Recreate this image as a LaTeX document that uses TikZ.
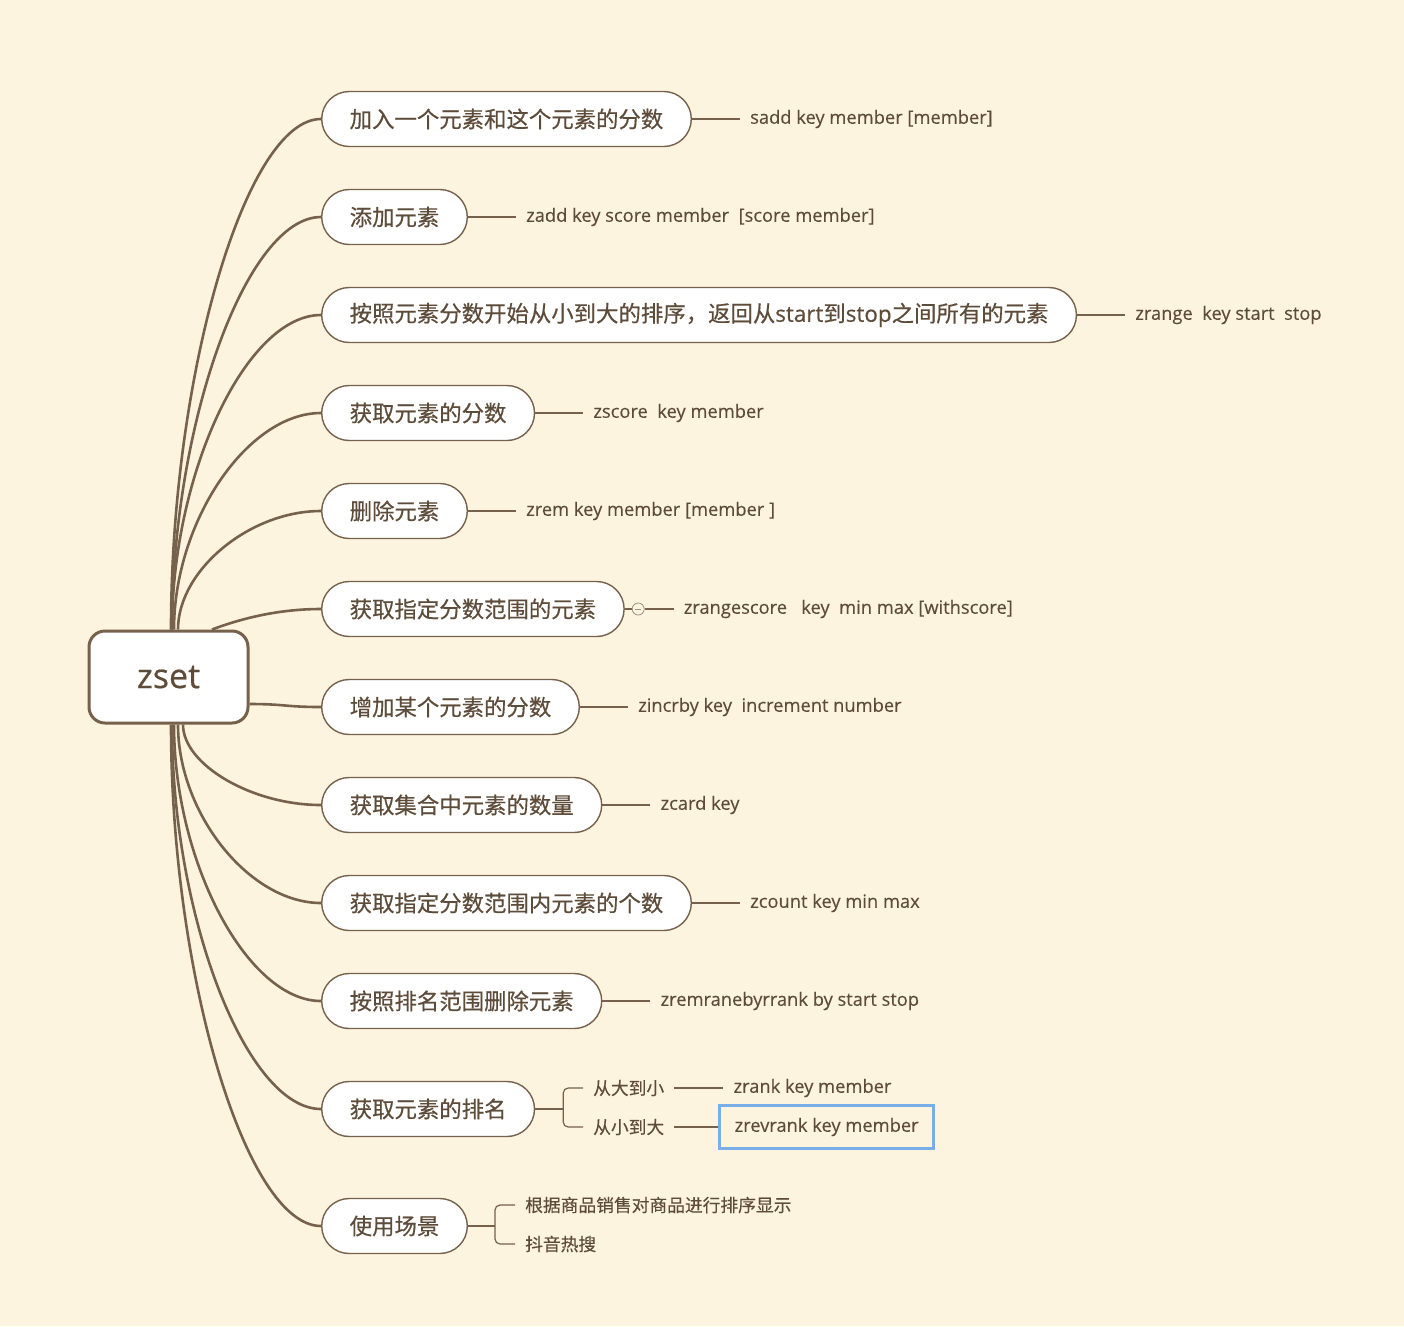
\documentclass[tikz,border=0pt]{standalone}
\usepackage{fontspec}
\setmainfont[FakeBold=0.25]{Open Sans}
\newfontfamily\cjk[FakeBold=0.25]{Noto Sans CJK SC}
\newfontfamily\cjkhead[FakeBold=0.45]{Noto Sans CJK SC}
\newfontfamily\headlatin[FakeBold=0.45]{Open Sans}
\usetikzlibrary{positioning,calc}
\definecolor{paper}{HTML}{FCF4DF}
\definecolor{bark}{HTML}{76624C}
\definecolor{ink}{HTML}{5E4C3A}
\definecolor{pick}{HTML}{7AAEE8}
\tikzset{
  root/.style={draw=bark, line width=3pt, fill=white, rounded corners=16pt, minimum width=159pt, minimum height=92pt, text=ink, font=\headlatin\fontsize{34}{40}\selectfont},
  branch/.style={draw=bark, line width=1.4pt, fill=white, rounded corners=27.5pt, minimum height=55pt, inner xsep=28pt, anchor=west, text=ink, font=\cjkhead\fontsize{22.4}{26}\selectfont},
  leaf/.style={inner xsep=10pt, inner ysep=2pt, text=ink, font=\fontsize{18.3}{22}\selectfont},
  cjkleaf/.style={leaf, font=\cjk\fontsize{17.75}{21}\selectfont},
  twig/.style={draw=bark, line width=2.6pt},
  stem/.style={draw=bark, line width=1.2pt},
}
\begin{document}
\begin{tikzpicture}[x=1pt,y=1pt,yscale=-1,xscale=1]
        \useasboundingbox[fill=paper] (0,0) rectangle (1404,1326);

        \node[root] (root) at (168.5,677) {zset};

        \foreach \n/\y/\t in {1/119/{加入一个元素和这个元素的分数},2/217/{添加元素},3/315/{按照元素分数开始从小到大的排序，返回从{\headlatin start}到{\headlatin stop}之间所有的元素},4/413/{获取元素的分数},5/511/{删除元素},6/609/{获取指定分数范围的元素},7/707/{增加某个元素的分数},8/805/{获取集合中元素的数量},9/903/{获取指定分数范围内元素的个数},10/1001/{按照排名范围删除元素},11/1109/{获取元素的排名},12/1226/{使用场景}}{
            \node[branch] (b\n) at (321,\y) {\t};
        }

        \foreach \n/\x in {1/171,2/172,3/172,4/174,5/178}{ \coordinate (s\n) at (root.north -| \x,0); }
        \foreach \n/\x in {8/183,9/178,10/174,11/172,12/171}{ \coordinate (s\n) at (root.south -| \x,0); }
        \coordinate (s6) at (root.north -| 212,0);
        \coordinate (s7) at (root.east |- 0,704);

        \foreach \n in {1,2,3,4,5,8,9,10,11,12}{
            \coordinate (m\n) at ($(s\n)!0.5!(b\n.west)$);
            \draw[twig] (s\n) .. controls (s\n |- m\n) and (m\n |- b\n.west) .. (b\n.west);
        }
        \coordinate (m6) at ($(s6)!0.5!(b6.west)$);
        \coordinate (k6) at (m6 |- b6.west);
        \draw[twig] (s6) .. controls ($(s6)!0.667!(k6)$) and ($(b6.west)!0.667!(k6)$) .. (b6.west);
        \coordinate (m7) at ($(s7)!0.5!(b7.west)$);
        \draw[twig] (s7) .. controls (m7 |- s7) and (m7 |- b7.west) .. (b7.west);

        \foreach \n/\t in {1/{sadd key member [member]},2/{zadd key score member\ \ [score member]},3/{zrange\ \ key start\ \ stop},4/{zscore\ \ key member},5/{zrem key member [member\ ]},7/{zincrby key\ \ increment number},8/{zcard key},9/{zcount key min max},10/{zremranebyrrank by start stop}}{
            \node[leaf, right=48pt of b\n] (l\n) {\t};
            \draw[stem] (b\n.east) -- (l\n.west);
        }

        \node[circle, draw=bark!70, fill=paper, line width=0.8pt, minimum size=12pt, inner sep=0pt, right=7pt of b6] (fold) {};
        \draw[draw=bark!70, line width=0.8pt] ([xshift=-3pt]fold.center) -- ([xshift=3pt]fold.center);
        \node[leaf, right=29pt of fold] (l6) {zrangescore\ \ \ key\ \ min max [withscore]};
        \draw[stem] (b6.east) -- (fold.west);
        \draw[stem] (fold.east) -- (l6.west);

        \coordinate (fork11) at ([xshift=28pt]b11.east);
        \node[cjkleaf, anchor=west] (big) at (583,1088) {从大到小};
        \node[cjkleaf, anchor=west] (small) at (583,1127) {从小到大};
        \node[leaf, right=49pt of big] (rank) {zrank key member};
        \node[leaf, draw=pick, line width=2.5pt, inner xsep=15pt, minimum height=43pt, right=44pt of small] (rev) {zrevrank key member};
        \draw[stem] (b11.east) -- (fork11);
        \draw[stem, rounded corners=5pt] (big.west) -| (fork11) |- (small.west);
        \draw[stem] (big.east) -- (rank.west);
        \draw[stem] (small.east) -- (rev.west);

        \coordinate (fork12) at ([xshift=27pt]b12.east);
        \node[cjkleaf, anchor=west] (shop) at (515,1205) {根据商品销售对商品进行排序显示};
        \node[cjkleaf, anchor=west] (hot) at (515,1244) {抖音热搜};
        \draw[stem] (b12.east) -- (fork12);
        \draw[stem, rounded corners=5pt] (shop.west) -| (fork12) |- (hot.west);
    \end{tikzpicture}
\end{document}
